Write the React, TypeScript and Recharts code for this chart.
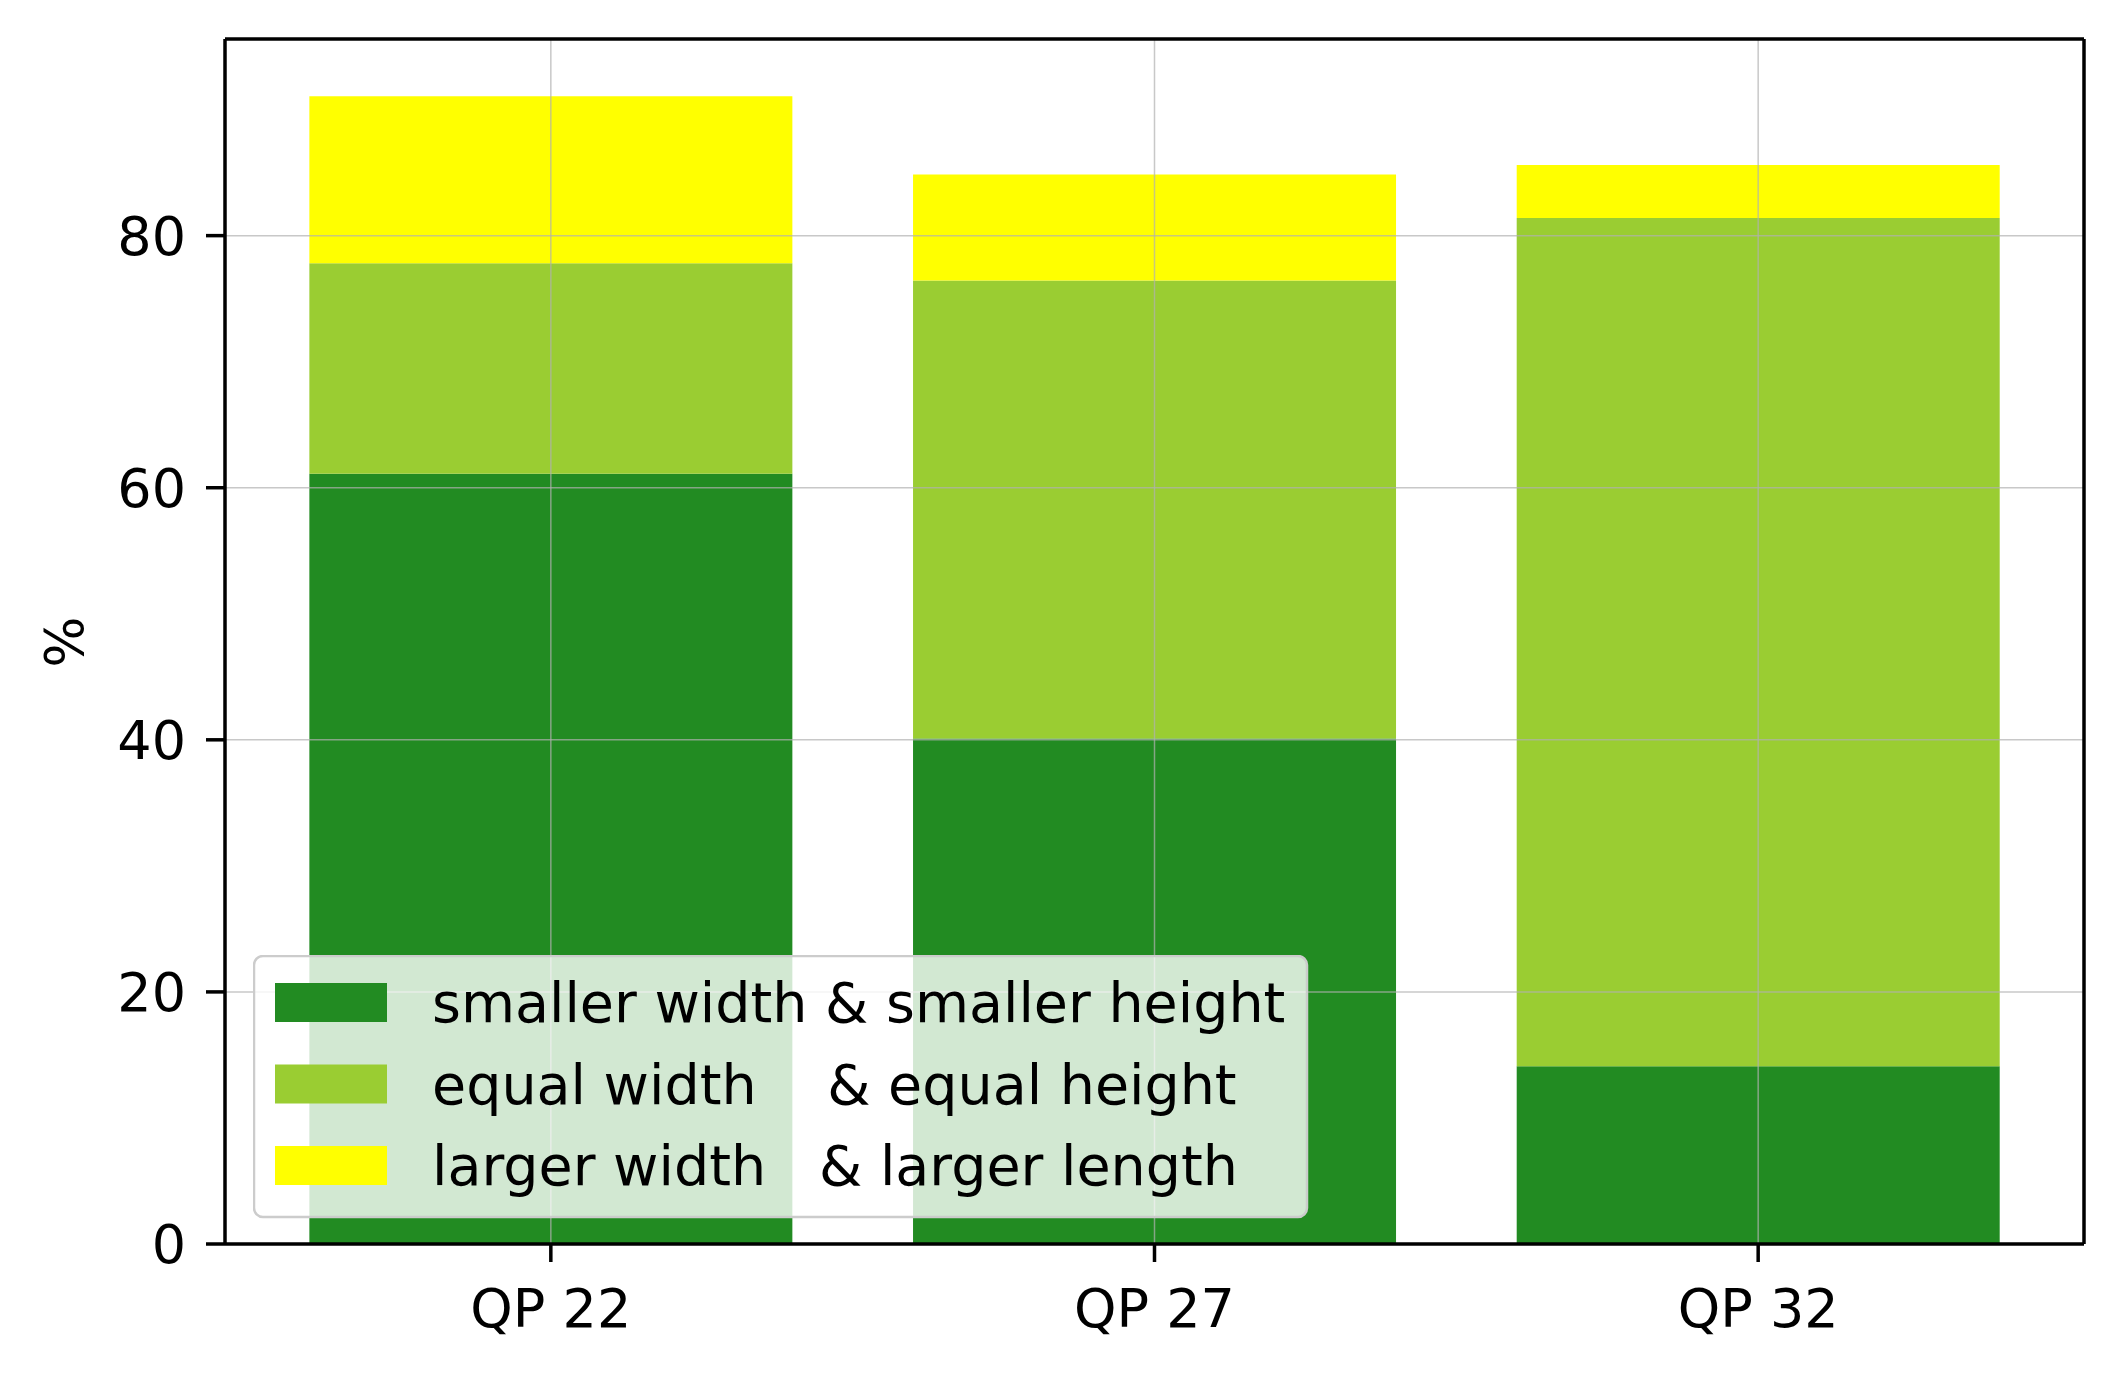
import React from 'react';
import {
  BarChart,
  Bar,
  XAxis,
  YAxis,
  ReferenceLine,
  Legend,
  Customized,
} from 'recharts';

const categories = ['QP 22', 'QP 27', 'QP 32'];
const smallerValues = [61.1, 40.1, 14.1];
const equalValues = [16.7, 36.35, 67.3];
const largerValues = [13.25, 8.4, 4.2];
const yTicks = [0, 20, 40, 60, 80];
const gridY = [20, 40, 60, 80];

const seriesNames = [
  'smaller width & smaller height',
  'equal width    & equal height',
  'larger width   & larger length',
];
const seriesColors = ['#228B22', '#9ACD32', '#FFFF00'];

const data = categories.map((c, i) => ({
  name: c,
  smaller: smallerValues[i],
  equal: equalValues[i],
  larger: largerValues[i],
}));

const FONT = 'DejaVu Sans, Verdana, sans-serif';
const FS = 54;

const renderLegend = (props: any) => {
  const payload = [...(props.payload || [])].sort(
    (a: any, b: any) => seriesNames.indexOf(a.value) - seriesNames.indexOf(b.value)
  );
  return (
    <svg width={1056} height={264} style={{ display: 'block' }}>
      <rect
        x={1}
        y={1}
        width={1053}
        height={261}
        rx={9}
        ry={9}
        fill="#ffffff"
        fillOpacity={0.8}
        stroke="#cccccc"
        strokeWidth={2.5}
      />
      {payload.map((entry: any, i: number) => (
        <g key={i}>
          <rect x={22} y={28 + i * 81.5} width={112} height={39} fill={entry.color} />
          <text
            x={179}
            y={67 + i * 81.5}
            fontFamily={FONT}
            fontSize={55.5}
            fill="#000"
            style={{ whiteSpace: 'pre' }}
          >
            {entry.value}
          </text>
        </g>
      ))}
    </svg>
  );
};

export default function App() {
  return (
    <div style={{ position: 'absolute', left: 0, top: 0, width: 2125, height: 1380, background: '#fff' }}>
      <BarChart
        width={2125}
        height={1380}
        data={data}
        margin={{ top: 38, right: 40, left: 125, bottom: 76 }}
        barCategoryGap="10%"
      >
        <XAxis
          dataKey="name"
          padding={{ left: 24, right: 24 }}
          tickSize={18}
          tickMargin={27}
          height={60}
          axisLine={{ stroke: '#000', strokeWidth: 3.5 }}
          tickLine={{ stroke: '#000', strokeWidth: 3.5 }}
          tick={{ fontFamily: FONT, fontSize: FS, fill: '#000' }}
        />
        <XAxis
          xAxisId="top"
          dataKey="name"
          orientation="top"
          height={1}
          padding={{ left: 24, right: 24 }}
          tick={false}
          tickLine={false}
          axisLine={{ stroke: '#000', strokeWidth: 3.5 }}
        />
        <YAxis
          domain={[0, 95.6]}
          ticks={yTicks}
          type="number"
          allowDataOverflow
          width={100}
          tickSize={19}
          tickMargin={20}
          axisLine={{ stroke: '#000', strokeWidth: 3.5 }}
          tickLine={{ stroke: '#000', strokeWidth: 3.5 }}
          tick={{ fontFamily: FONT, fontSize: FS, fill: '#000' }}
        />
        <YAxis
          yAxisId="right"
          orientation="right"
          width={1}
          type="number"
          domain={[0, 95.6]}
          tick={false}
          tickLine={false}
          axisLine={{ stroke: '#000', strokeWidth: 3.5 }}
        />
        <Bar dataKey="smaller" name={seriesNames[0]} stackId="a" fill={seriesColors[0]} isAnimationActive={false} />
        <Bar dataKey="equal" name={seriesNames[1]} stackId="a" fill={seriesColors[1]} isAnimationActive={false} />
        <Bar dataKey="larger" name={seriesNames[2]} stackId="a" fill={seriesColors[2]} isAnimationActive={false} />
        {gridY.map((v) => (
          <ReferenceLine key={'gy' + v} y={v} stroke="#b0b0b0" strokeWidth={1.5} strokeOpacity={0.7} />
        ))}
        {categories.map((c) => (
          <ReferenceLine key={'gx' + c} x={c} stroke="#b0b0b0" strokeWidth={1.5} strokeOpacity={0.7} />
        ))}
        <Legend
          layout="vertical"
          align="center"
          verticalAlign="middle"
          content={renderLegend}
          wrapperStyle={{ position: 'absolute', left: 253, top: 955, width: 1056, height: 264, margin: 0, padding: 0 }}
        />
        <Customized
          component={() => (
            <text
              x={64}
              y={642}
              transform="rotate(-90, 64, 642)"
              textAnchor="middle"
              dominantBaseline="central"
              fontFamily={FONT}
              fontSize={FS}
              fill="#000"
            >
              %
            </text>
          )}
        />
      </BarChart>
    </div>
  );
}
